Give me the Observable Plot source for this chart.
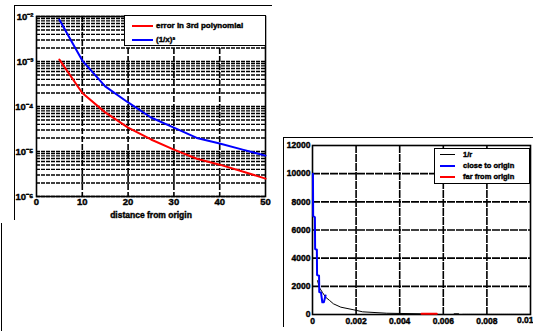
<!DOCTYPE html>
<html><head><meta charset="utf-8">
<script src="https://cdn.jsdelivr.net/npm/d3@7"></script>
<script src="https://cdn.jsdelivr.net/npm/@observablehq/plot@0.6"></script>
<style>
body{margin:0;width:533px;height:331px;overflow:hidden;background:#fff;position:relative;font-family:"Liberation Sans",Arial,sans-serif;}
.abs{position:absolute;}
.ln{position:absolute;background:#000;}
.legend{position:absolute;background:#fff;border:1.5px solid #000;box-sizing:border-box;font-weight:bold;color:#000;-webkit-text-stroke:0.4px #000;}
.legend .sw{position:absolute;}
.legend .tx{position:absolute;white-space:nowrap;line-height:1;}
svg text{font-weight:bold;stroke:#000;stroke-width:0.4px;}
</style></head><body>
<script>
// ---------- Left chart data ----------
const distance = [5, 10, 15, 20, 25, 30, 35, 40, 45, 50];
const errorPoly3 = [1.1e-3, 2.0e-4, 7.4e-5, 3.4e-5, 1.85e-5, 1.1e-5, 6.9e-6, 5.1e-6, 3.6e-6, 2.5e-6];
const inverseCube = [8.5e-3, 1.05e-3, 2.8e-4, 1.23e-4, 5.7e-5, 3.4e-5, 2.0e-5, 1.5e-5, 1.1e-5, 8.1e-6];
const leftXTicks = [0, 10, 20, 30, 40, 50];
const leftYExponents = [-6, -5, -4, -3, -2];
const leftLegendLabels = ["error in 3rd polynomial", "(1/x)³"];
const leftLegendColors = ["#ff0000", "#0000ff"];
const leftXLabel = "distance from origin";

// ---------- Right chart data ----------
const closeR = [0.00002, 0.00003, 0.00011, 0.00012, 0.0002, 0.00021, 0.0003, 0.00031, 0.00039, 0.00045, 0.00052, 0.0006];
const closeV = [10000, 7000, 6900, 4650, 4600, 2800, 2750, 1600, 1550, 870, 870, 1350];
const invR = [0.00023, 0.00032, 0.00046, 0.0006, 0.00078, 0.00096, 0.0013, 0.0019, 0.0023, 0.0034, 0.005, null, 0.0065, 0.0067];
const invV = [2400, 1900, 1560, 1230, 1000, 760, 520, 330, 190, 90, 50, null, 50, 50];
const invTailR = [0.0069, 0.01];
const invTailV = [8, 8];
const farR = [0.005, 0.0057];
const farV = [50, 50];
const rightXTicks = [0, 0.002, 0.004, 0.006, 0.008, 0.01];
const rightYTicks = [0, 2000, 4000, 6000, 8000, 10000, 12000];
const rightLegendLabels = ["1/r", "close to origin", "far from origin"];
const rightLegendColors = ["#000000", "#0000ff", "#ff0000"];

const FONT = "'Liberation Sans', Arial, sans-serif";
const supMap = {"-": "⁻", "0": "⁰", "1": "¹", "2": "²", "3": "³", "4": "⁴", "5": "⁵", "6": "⁶", "7": "⁷", "8": "⁸", "9": "⁹"};
const sup = s => String(s).split("").map(c => supMap[c] || c).join("");
const fmtR = d => d === 0 ? "0" : String(+d.toFixed(3));

function place(el, left, top) {
  const d = document.createElement("div");
  d.className = "abs";
  d.style.left = left + "px";
  d.style.top = top + "px";
  d.appendChild(el);
  document.body.appendChild(d);
  return d;
}
function line(l, t, w, h) {
  const d = document.createElement("div");
  d.className = "ln";
  Object.assign(d.style, {left: l + "px", top: t + "px", width: w + "px", height: h + "px"});
  document.body.appendChild(d);
}
function legend(left, top, w, h, labels, colors, widths, rows, swL, swW, txL, fs) {
  const d = document.createElement("div");
  d.className = "legend";
  Object.assign(d.style, {left: left + "px", top: top + "px", width: w + "px", height: h + "px", fontSize: fs + "px"});
  labels.forEach((lab, i) => {
    const s = document.createElement("div");
    s.className = "sw";
    Object.assign(s.style, {left: swL + "px", top: (rows[i] - widths[i] / 2) + "px", width: swW + "px", height: widths[i] + "px", background: colors[i]});
    d.appendChild(s);
    const t = document.createElement("div");
    t.className = "tx";
    t.textContent = lab;
    Object.assign(t.style, {left: txL + "px", top: (rows[i] - fs / 2) + "px"});
    d.appendChild(t);
  });
  document.body.appendChild(d);
}

// ---------- Left chart ----------
const leftRows = distance.map((d, i) => ({d, err: errorPoly3[i], inv: inverseCube[i]}));
const minorY = [];
leftYExponents.slice(0, -1).forEach(e => { for (let k = 2; k <= 9; k++) minorY.push(k * 10 ** e); });
const majorY = leftYExponents.map(e => 10 ** e);

const leftPlot = Plot.plot({
  width: 262, height: 222,
  marginLeft: 22, marginRight: 11, marginTop: 11, marginBottom: 31,
  style: {fontFamily: FONT, fontSize: "9.5px", fontWeight: "bold", background: "transparent", maxWidth: "none"},
  x: {domain: [0, 50], ticks: leftXTicks, tickSize: 0, tickPadding: 2, label: null},
  y: {type: "log", domain: [1e-6, 1e-2], ticks: majorY, tickFormat: d => "10" + sup(Math.round(Math.log10(d))), tickSize: 0, tickPadding: 3, label: null},
  marks: [
    Plot.ruleY(minorY, {stroke: "#000", strokeWidth: 1.4, strokeDasharray: "4,1"}),
    Plot.ruleY(majorY, {stroke: "#000", strokeWidth: 1.6, strokeDasharray: "4,1"}),
    Plot.ruleX(leftXTicks.slice(1, -1), {stroke: "#000", strokeWidth: 1.6, strokeDasharray: "6,2"}),
    Plot.frame({stroke: "#000", strokeWidth: 1.6}),
    Plot.line(leftRows, {x: "d", y: "err", stroke: "#ff0000", strokeWidth: 2}),
    Plot.line(leftRows, {x: "d", y: "inv", stroke: "#0000ff", strokeWidth: 2}),
    Plot.text([leftXLabel], {frameAnchor: "bottom", dy: 21, fontSize: 8.5, fontWeight: "bold", fill: "#000"})
  ]
});
place(leftPlot, 14, 5);

// ---------- Right chart ----------
const closeRows = closeR.map((r, i) => ({r, v: closeV[i]}));
const invRows = invR.map((r, i) => ({r, v: invV[i]}));
const tailRows = invTailR.map((r, i) => ({r, v: invTailV[i]}));
const farRows = farR.map((r, i) => ({r, v: farV[i]}));

const rightPlot = Plot.plot({
  width: 249, height: 193,
  marginLeft: 28, marginRight: 3, marginTop: 7, marginBottom: 17,
  style: {fontFamily: FONT, fontSize: "8.5px", fontWeight: "bold", background: "transparent", maxWidth: "none"},
  x: {domain: [0, 0.01], ticks: rightXTicks.slice(0, -1), tickFormat: fmtR, tickSize: 0, tickPadding: 3, label: null},
  y: {domain: [0, 12000], ticks: rightYTicks, tickFormat: d => String(d), tickSize: 0, tickPadding: 2, label: null},
  marks: [
    Plot.ruleX(rightXTicks.slice(1, -1), {stroke: "#000", strokeWidth: 1.6, strokeDasharray: "8,1"}),
    Plot.ruleY(rightYTicks.slice(1, -1), {stroke: "#000", strokeWidth: 1.6, strokeDasharray: "8,1"}),
    Plot.frame({stroke: "#000", strokeWidth: 1.6}),
    Plot.line(invRows, {x: "r", y: "v", stroke: "#000", strokeWidth: 1}),
    Plot.line(tailRows, {x: "r", y: "v", stroke: "#000", strokeWidth: 1, strokeDasharray: "1,1"}),
    Plot.line(farRows, {x: "r", y: "v", stroke: "#ff0000", strokeWidth: 2}),
    Plot.line(closeRows, {x: "r", y: "v", stroke: "#0000ff", strokeWidth: 2}),
    Plot.text(rightXTicks.slice(-1), {x: d => d, frameAnchor: "bottom", dy: 8, dx: 3, textAnchor: "end", text: fmtR, fontSize: 8.5, fontWeight: "bold", fill: "#000"})
  ]
});
place(rightPlot, 284, 138);

// ---------- Figure frame fragments ----------
line(14, 5, 258, 1);
line(14, 5, 1, 215);
line(1, 223, 1, 108);
line(283, 137, 250, 1);
line(283, 137, 1, 190);

// ---------- Legends ----------
legend(124, 15, 142, 31, leftLegendLabels, leftLegendColors, [2, 2], [10, 24], 7, 21, 31, 8);
legend(434, 148, 96, 36, rightLegendLabels, rightLegendColors, [1, 2, 2], [5.5, 16.5, 27.5], 5, 15, 28, 7.5);
</script>
</body></html>
